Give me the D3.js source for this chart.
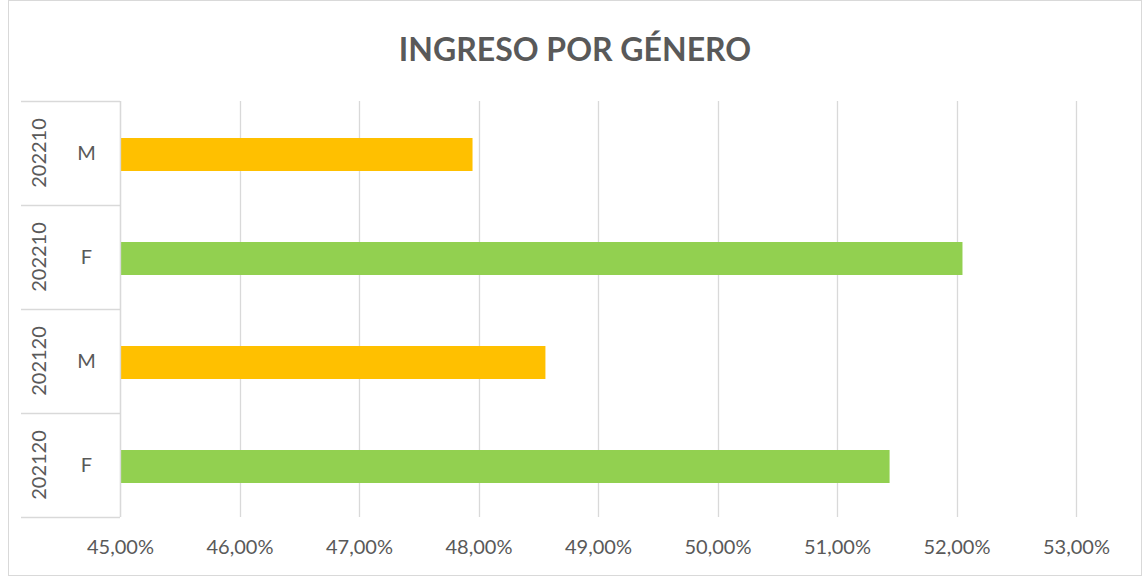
<!DOCTYPE html>
<html>
<head>
<meta charset="utf-8">
<script src="https://cdn.jsdelivr.net/npm/d3@7"></script>
<style>
  body { margin: 0; background: #fff; }
  text { font-family: Lato, "Open Sans", sans-serif; fill: #595959; }
</style>
</head>
<body>
<div id="chart"></div>
<script>
// Chart data
const periods = ["202210", "202210", "202120", "202120"];
const genders = ["M", "F", "M", "F"];
const shares = [47.95, 52.05, 48.56, 51.44];
const barColors = ["#FFC000", "#92D050", "#FFC000", "#92D050"];
const xTicks = [45, 46, 47, 48, 49, 50, 51, 52, 53];

const width = 1145;
const height = 576;
const margin = { top: 101, right: 69, bottom: 59, left: 120 };
const innerW = width - margin.left - margin.right;
const innerH = height - margin.top - margin.bottom;

const svg = d3.select("#chart")
  .append("svg")
  .attr("width", width)
  .attr("height", height);

// outer chart border
svg.append("rect")
  .attr("x", 8.5).attr("y", 0.5)
  .attr("width", 1133).attr("height", 575)
  .attr("fill", "#fff")
  .attr("stroke", "#D9D9D9");

svg.append("text")
  .attr("x", 575)
  .attr("y", 61)
  .attr("text-anchor", "middle")
  .attr("font-size", 32)
  .attr("font-weight", "bold")
  .text("INGRESO POR GÉNERO");

const g = svg.append("g")
  .attr("transform", "translate(" + margin.left + "," + margin.top + ")");

const x = d3.scaleLinear()
  .domain([45, 53])
  .range([0, innerW]);

const rows = d3.range(shares.length);
const y = d3.scaleBand()
  .domain(rows)
  .range([0, innerH])
  .paddingInner(0)
  .paddingOuter(0);

// gridlines
g.selectAll(".grid")
  .data(xTicks)
  .enter().append("line")
  .attr("class", "grid")
  .attr("x1", d => Math.round(x(d)) + 0.5)
  .attr("x2", d => Math.round(x(d)) + 0.5)
  .attr("y1", 0)
  .attr("y2", innerH)
  .attr("stroke", "#D9D9D9")
  .attr("stroke-width", 1.3);

// bars
const barH = 33;
g.selectAll(".bar")
  .data(rows)
  .enter().append("rect")
  .attr("class", "bar")
  .attr("x", x(45))
  .attr("y", i => y(i) + (y.bandwidth() - barH) / 2 + 1.5)
  .attr("width", i => x(shares[i]) - x(45))
  .attr("height", barH)
  .attr("fill", i => barColors[i]);

// x axis labels
const xAxis = g.append("g")
  .attr("transform", "translate(0," + innerH + ")")
  .call(d3.axisBottom(x)
    .tickValues(xTicks)
    .tickSize(0)
    .tickPadding(23)
    .tickFormat(d => d.toFixed(2).replace(".", ",") + "%"));
xAxis.select(".domain").remove();
xAxis.selectAll("text")
  .attr("font-size", 20)
  .style("font-family", "Lato, 'Open Sans', sans-serif")
  .attr("fill", "#595959");

// category axis (two levels)
const axisLeftX = 21 - margin.left;
const separators = d3.range(rows.length + 1).map(i => i === rows.length ? innerH : y(i));
g.selectAll(".sep")
  .data(separators)
  .enter().append("line")
  .attr("class", "sep")
  .attr("x1", axisLeftX)
  .attr("x2", 0)
  .attr("y1", d => Math.round(d) + 0.5)
  .attr("y2", d => Math.round(d) + 0.5)
  .attr("stroke", "#D9D9D9")
  .attr("stroke-width", 1.3);

g.append("line")
  .attr("x1", 0.5).attr("x2", 0.5)
  .attr("y1", 0).attr("y2", innerH)
  .attr("stroke", "#D9D9D9")
  .attr("stroke-width", 1.3);

g.selectAll(".gender")
  .data(rows)
  .enter().append("text")
  .attr("class", "gender")
  .attr("x", -33.5)
  .attr("y", i => y(i) + y.bandwidth() / 2)
  .attr("dy", "0.35em")
  .attr("text-anchor", "middle")
  .attr("font-size", 20)
  .text(i => genders[i]);

g.selectAll(".period")
  .data(rows)
  .enter().append("text")
  .attr("class", "period")
  .attr("transform", i => "translate(" + (39 - margin.left) + "," + (y(i) + y.bandwidth() / 2) + ") rotate(-90)")
  .attr("dy", "0.35em")
  .attr("text-anchor", "middle")
  .attr("font-size", 20)
  .text(i => periods[i]);
</script>
</body>
</html>
